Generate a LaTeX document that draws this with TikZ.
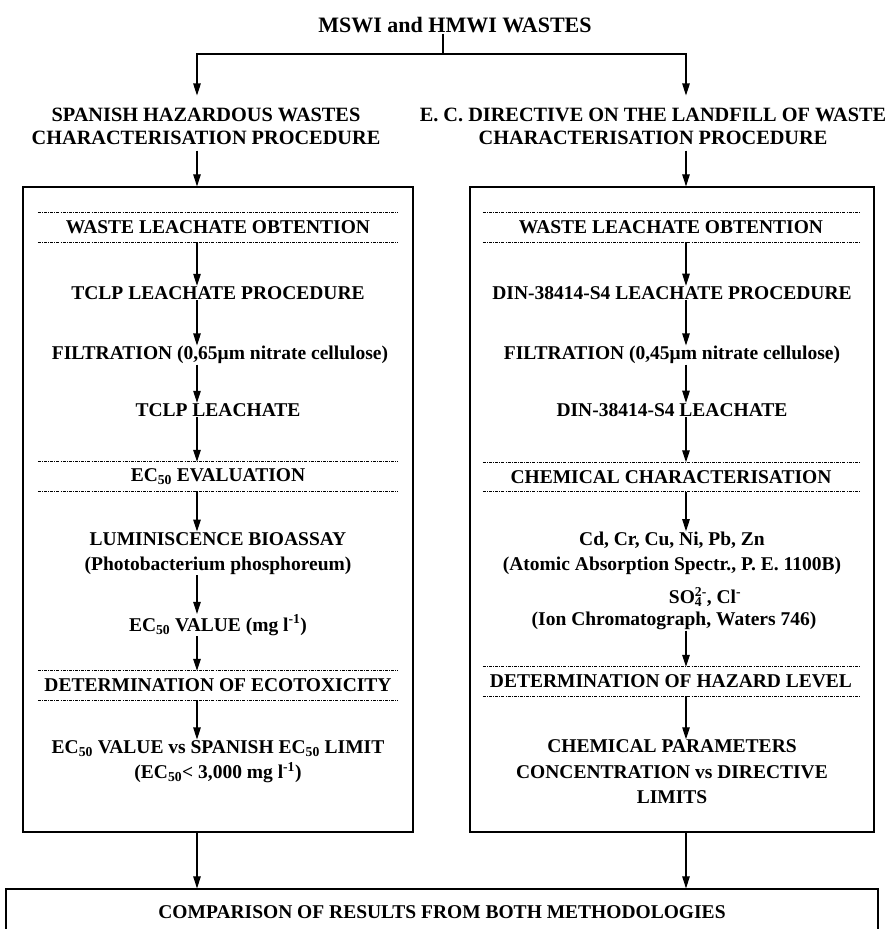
\documentclass[tikz,border=0pt]{standalone}
\usepackage{fontspec}
\setmainfont{Liberation Serif}
\usetikzlibrary{arrows.meta}
\begin{document}
\begin{tikzpicture}[x=1pt,y=-1pt,
 every node/.style={font=\fontsize{19.5}{25.5}\selectfont\bfseries, inner sep=0.5pt, align=center},
 bigtxt/.style={font=\fontsize{20.3}{23}\selectfont\bfseries},
 titletxt/.style={font=\fontsize{22}{26}\selectfont\bfseries},
 arr/.style={line width=1.1pt,-{Triangle[length=12pt,width=7.5pt]}},
 ln/.style={line width=1.1pt},
 frame/.style={draw, line width=1.2pt, inner sep=0pt},
 hd/.style={minimum height=29pt, inner sep=0pt},
 dd/.style={line width=0.7pt, dash pattern=on 3pt off 1.2pt on 0.8pt off 1.2pt}]
\useasboundingbox (0,0) rectangle (885,929);
\clip (0,0) rectangle (885,929);
\coordinate (colL) at (197,0);
\coordinate (colR) at (686,0);
\coordinate (junc) at (443,54);
% top
\node[titletxt] (title) at (455,25) {MSWI and HMWI WASTES};
\node[bigtxt] (hdrL) at (206,126.5) {SPANISH HAZARDOUS WASTES\\CHARACTERISATION PROCEDURE};
\node[bigtxt] (hdrR) at (653,126.5) {E. C. DIRECTIVE ON THE LANDFILL OF WASTE\\CHARACTERISATION PROCEDURE};
% frames
\node[frame, minimum width=390, minimum height=645] (boxL) at (218,509.5) {};
\node[frame, minimum width=404, minimum height=645] (boxR) at (672,509.5) {};
\node[frame, minimum width=872, minimum height=46] (cmp) at (442,912) {COMPARISON OF RESULTS FROM BOTH METHODOLOGIES};
% left column
\node[hd, minimum width=360] (lh1) at (218,227.5) {WASTE LEACHATE OBTENTION};
\node (l1) at (218,293) {TCLP LEACHATE PROCEDURE};
\node (l2) at (220,355) {FILTRATION (0,65μm nitrate cellulose)};
\node (l3) at (218,410) {TCLP LEACHATE};
\node[hd, minimum width=360] (lh2) at (218,476.5) {EC\textsubscript{50} EVALUATION};
\node (l4) at (218,553.5) {LUMINISCENCE BIOASSAY\\(Photobacterium phosphoreum)};
\node (l5) at (218,625) {EC\textsubscript{50} VALUE (mg l\textsuperscript{-1})};
\node[hd, minimum width=360] (lh3) at (218,685.5) {DETERMINATION OF ECOTOXICITY};
\node (l6) at (218,761.5) {EC\textsubscript{50} VALUE vs SPANISH EC\textsubscript{50} LIMIT\\(EC\textsubscript{50}< 3,000 mg l\textsuperscript{-1})};
% right column
\node[hd, minimum width=376] (rh1) at (671,227.5) {WASTE LEACHATE OBTENTION};
\node (r1) at (672,293) {DIN-38414-S4 LEACHATE PROCEDURE};
\node (r2) at (672,355) {FILTRATION (0,45μm nitrate cellulose)};
\node (r3) at (672,410) {DIN-38414-S4 LEACHATE};
\node[hd, minimum width=376] (rh2) at (671,477) {CHEMICAL CHARACTERISATION};
\node (r4) at (672,553.5) {Cd, Cr, Cu, Ni, Pb, Zn\\(Atomic Absorption Spectr., P. E. 1100B)};
\node (r5) at (705,597) {SO\rlap{\textsubscript{4}}\textsuperscript{2-}, Cl\textsuperscript{-}};
\node (r6) at (674,621) {(Ion Chromatograph, Waters 746)};
\node[hd, minimum width=376] (rh3) at (671,681.5) {DETERMINATION OF HAZARD LEVEL};
\node (r7) at (672,772) {CHEMICAL PARAMETERS\\CONCENTRATION vs DIRECTIVE\\LIMITS};
% dash-dot rules
\foreach \n in {lh1,lh2,lh3,rh1,rh2,rh3}
  \draw[dd] (\n.north west) -- (\n.north east) (\n.south west) -- (\n.south east);
% top connectors
\draw[ln] (title.south -| junc) -- (junc);
\draw[arr, shorten >=12pt] (junc) -| (hdrL.north -| colL);
\draw[arr, shorten >=12pt] (junc) -| (hdrR.north -| colR);
\draw[arr, shorten <=5pt] (hdrL.south -| colL) -- (boxL.north -| colL);
\draw[arr, shorten <=5pt] (hdrR.south -| colR) -- (boxR.north -| colR);
% left arrows
\draw[arr] (lh1.south -| colL) -- (l1.north -| colL);
\draw[arr] (l1.south -| colL) -- (l2.north -| colL);
\draw[arr] (l2.south -| colL) -- (l3.north -| colL);
\draw[arr] (l3.south -| colL) -- (lh2.north -| colL);
\draw[arr] (lh2.south -| colL) -- (l4.north -| colL);
\draw[arr] (l4.south -| colL) -- (l5.north -| colL);
\draw[arr] (l5.south -| colL) -- (lh3.north -| colL);
\draw[arr] (lh3.south -| colL) -- (l6.north -| colL);
% right arrows
\draw[arr] (rh1.south -| colR) -- (r1.north -| colR);
\draw[arr] (r1.south -| colR) -- (r2.north -| colR);
\draw[arr] (r2.south -| colR) -- (r3.north -| colR);
\draw[arr] (r3.south -| colR) -- (rh2.north -| colR);
\draw[arr] (rh2.south -| colR) -- (r4.north -| colR);
\draw[arr] (r6.south -| colR) -- (rh3.north -| colR);
\draw[arr] (rh3.south -| colR) -- (r7.north -| colR);
% to comparison
\draw[arr] (boxL.south -| colL) -- (cmp.north -| colL);
\draw[arr] (boxR.south -| colR) -- (cmp.north -| colR);
\end{tikzpicture}
\end{document}
